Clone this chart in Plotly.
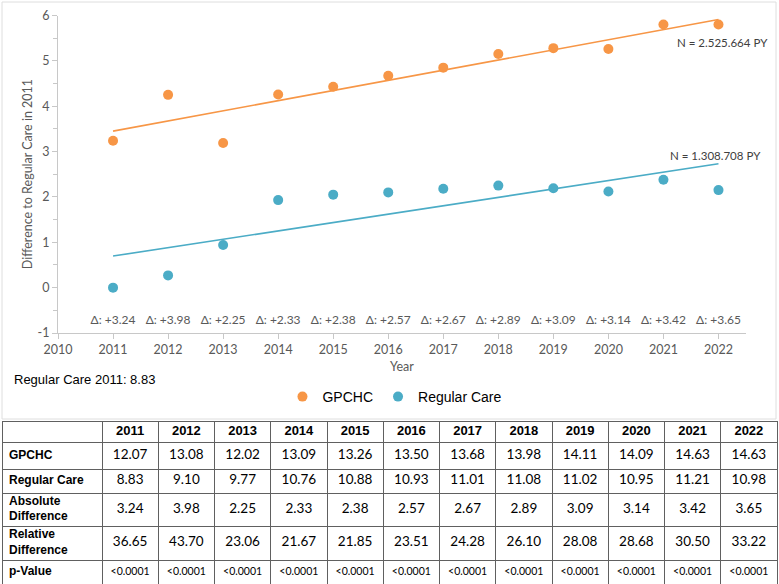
import numpy as np
import plotly.graph_objects as go

# ---------------- data ----------------
years = [2011, 2012, 2013, 2014, 2015, 2016, 2017, 2018, 2019, 2020, 2021, 2022]
gpchc = [12.07, 13.08, 12.02, 13.09, 13.26, 13.50, 13.68, 13.98, 14.11, 14.09, 14.63, 14.63]
regular = [8.83, 9.10, 9.77, 10.76, 10.88, 10.93, 11.01, 11.08, 11.02, 10.95, 11.21, 10.98]
abs_diff = [3.24, 3.98, 2.25, 2.33, 2.38, 2.57, 2.67, 2.89, 3.09, 3.14, 3.42, 3.65]
rel_diff = [36.65, 43.70, 23.06, 21.67, 21.85, 23.51, 24.28, 26.10, 28.08, 28.68, 30.50, 33.22]
p_values = ["<0.0001"] * 12
row_labels = ["GPCHC", "Regular Care", "Absolute<br>Difference", "Relative<br>Difference", "p-Value"]
y_ticks = [-1, 0, 1, 2, 3, 4, 5, 6]
baseline = regular[0]  # Regular Care 2011
n_gpchc = "N = 2.525.664 PY"
n_regular = "N = 1.308.708 PY"

# ---------------- layout constants ----------------
W, H = 779, 584
def px_x(p):
    return p / W
def px_y(p):
    return 1 - p / H

ORANGE = "#F79646"
BLUE = "#4BACC6"
GRAY_TXT = "#595959"
AXIS_COL = "#c8c8c8"
CF = "Lato, Carlito, Calibri, sans-serif"
AF = "Liberation Sans, Arial, sans-serif"

diff_g = [v - baseline for v in gpchc]
diff_r = [v - baseline for v in regular]
fit_g = np.polyfit(years, diff_g, 1)
fit_r = np.polyfit(years, diff_r, 1)
trend_x = [years[0], years[-1]]

fig = go.Figure()
fig.add_trace(go.Scatter(x=years, y=diff_g, mode="markers", name="GPCHC",
                         marker=dict(color=ORANGE, size=10), hoverinfo="x+y"))
fig.add_trace(go.Scatter(x=years, y=diff_r, mode="markers", name="Regular Care",
                         marker=dict(color=BLUE, size=10), hoverinfo="x+y"))
fig.add_trace(go.Scatter(x=trend_x, y=list(np.polyval(fit_g, trend_x)), mode="lines",
                         line=dict(color=ORANGE, width=1.6), showlegend=False, hoverinfo="skip"))
fig.add_trace(go.Scatter(x=trend_x, y=list(np.polyval(fit_r, trend_x)), mode="lines",
                         line=dict(color=BLUE, width=1.6), showlegend=False, hoverinfo="skip"))
DELTA_Y = -0.73
fig.add_trace(go.Scatter(x=years, y=[DELTA_Y] * len(years), mode="text",
                         text=[f"Δ: +{v:.2f}" for v in abs_diff],
                         textfont=dict(family=CF, size=12, color=GRAY_TXT),
                         showlegend=False, hoverinfo="skip"))

# ---------------- table (on its own axes) ----------------
TABLE_TOP = 422
row_edges = [0, 20, 47, 71, 104, 138, 162]
first_w = 99
col_w = 56.25
table_w = first_w + col_w * len(years)
col_edges = [0, first_w] + [first_w + col_w * (k + 1) for k in range(len(years))]
col_centers = [first_w + col_w * (k + 0.5) for k in range(len(years))]
row_centers = [(row_edges[i] + row_edges[i + 1]) / 2 for i in range(len(row_edges) - 1)]

fig.add_trace(go.Scatter(x=col_centers, y=[row_centers[0]] * len(years), mode="text",
                         text=[f"<b>{y}</b>" for y in years],
                         textfont=dict(family=AF, size=13, color="black"),
                         xaxis="x2", yaxis="y2", showlegend=False, hoverinfo="skip"))
fig.add_trace(go.Scatter(x=[6] * len(row_labels), y=row_centers[1:], mode="text",
                         text=[f"<b>{l}</b>" for l in row_labels], textposition="middle right",
                         textfont=dict(family=AF, size=12, color="black"),
                         xaxis="x2", yaxis="y2", showlegend=False, hoverinfo="skip"))
rows_vals = [[f"{v:.2f}" for v in gpchc], [f"{v:.2f}" for v in regular],
             [f"{v:.2f}" for v in abs_diff], [f"{v:.2f}" for v in rel_diff], p_values]
tx, ty, tt, ts = [], [], [], []
for ri, vals in enumerate(rows_vals):
    for ci, t in enumerate(vals):
        tx.append(col_centers[ci])
        ty.append(row_centers[ri + 1])
        tt.append(t)
        ts.append(10.5 if ri == 4 else 13.5)
fig.add_trace(go.Scatter(x=tx, y=ty, mode="text", text=tt,
                         textfont=dict(family=CF, size=ts, color="black"),
                         xaxis="x2", yaxis="y2", showlegend=False, hoverinfo="skip"))

TBL_LINE = "#606060"
fig.update_layout(
    width=W, height=H, margin=dict(l=0, r=0, t=0, b=0, autoexpand=False),
    paper_bgcolor="white", plot_bgcolor="white",
    xaxis=dict(domain=[px_x(58), px_x(746)], range=[2010, 2022.5], tick0=2010, dtick=1,
               showline=True, linecolor=AXIS_COL, ticks="outside", ticklen=5, tickcolor=AXIS_COL,
               showgrid=False, zeroline=False, anchor="y", automargin=False,
               tickfont=dict(family=CF, size=12.5, color=GRAY_TXT),
               title=dict(text="Year", font=dict(family=CF, size=12.5, color=GRAY_TXT), standoff=6)),
    yaxis=dict(domain=[px_y(333), px_y(15.5)], range=[-1, 6],
               tickvals=y_ticks, ticktext=[str(v) for v in y_ticks],
               showline=True, linecolor=AXIS_COL, ticks="outside", ticklen=5, tickcolor=AXIS_COL,
               minor=dict(dtick=0.5, ticks="outside", ticklen=4, tickcolor=AXIS_COL, showgrid=False),
               showgrid=False, zeroline=False, anchor="x", automargin=False,
               tickfont=dict(family=CF, size=12.5, color=GRAY_TXT)),
    xaxis2=dict(domain=[px_x(3), px_x(3 + table_w)], range=[0, table_w], anchor="y2",
                side="top", showline=True, linecolor=TBL_LINE, mirror=False, automargin=False,
                tickvals=col_edges[1:-1], showticklabels=False, ticks="",
                showgrid=True, gridcolor=TBL_LINE, gridwidth=1, zeroline=False),
    yaxis2=dict(domain=[0, px_y(TABLE_TOP)], range=[row_edges[-1], row_edges[0]], anchor="x2",
                showline=True, linecolor=TBL_LINE, mirror=True, automargin=False,
                tickvals=row_edges[1:-1], showticklabels=False, ticks="",
                showgrid=True, gridcolor=TBL_LINE, gridwidth=1, zeroline=False),
    legend=dict(orientation="h", x=0.507, xanchor="center", y=px_y(397), yanchor="middle",
                font=dict(family=AF, size=14, color="black"), itemwidth=30),
    showlegend=True,
)

fig.add_shape(type="rect", xref="paper", yref="paper",
              x0=px_x(2), x1=px_x(776), y0=px_y(419), y1=px_y(2),
              line=dict(color="#dedede", width=1), fillcolor="rgba(0,0,0,0)", layer="below")

# y-axis title
fig.add_annotation(x=px_x(27), y=2.5, xref="paper", yref="y", textangle=-90,
                   xanchor="center", yanchor="middle",
                   text="Difference to Regular Care in 2011", showarrow=False,
                   font=dict(family=CF, size=12.5, color=GRAY_TXT))
fig.add_annotation(x=2022.07, y=5.41, xref="x", yref="y", text=n_gpchc, showarrow=False,
                   font=dict(family=CF, size=11.5, color="#404040"))
fig.add_annotation(x=2021.95, y=2.91, xref="x", yref="y", text=n_regular, showarrow=False,
                   font=dict(family=CF, size=11.5, color="#404040"))
fig.add_annotation(x=px_x(12), y=px_y(379), xref="paper", yref="paper", xanchor="left",
                   text=f"Regular Care 2011: {baseline:.2f}", showarrow=False,
                   font=dict(family=AF, size=13, color="black"))

fig.write_html("out.html")
